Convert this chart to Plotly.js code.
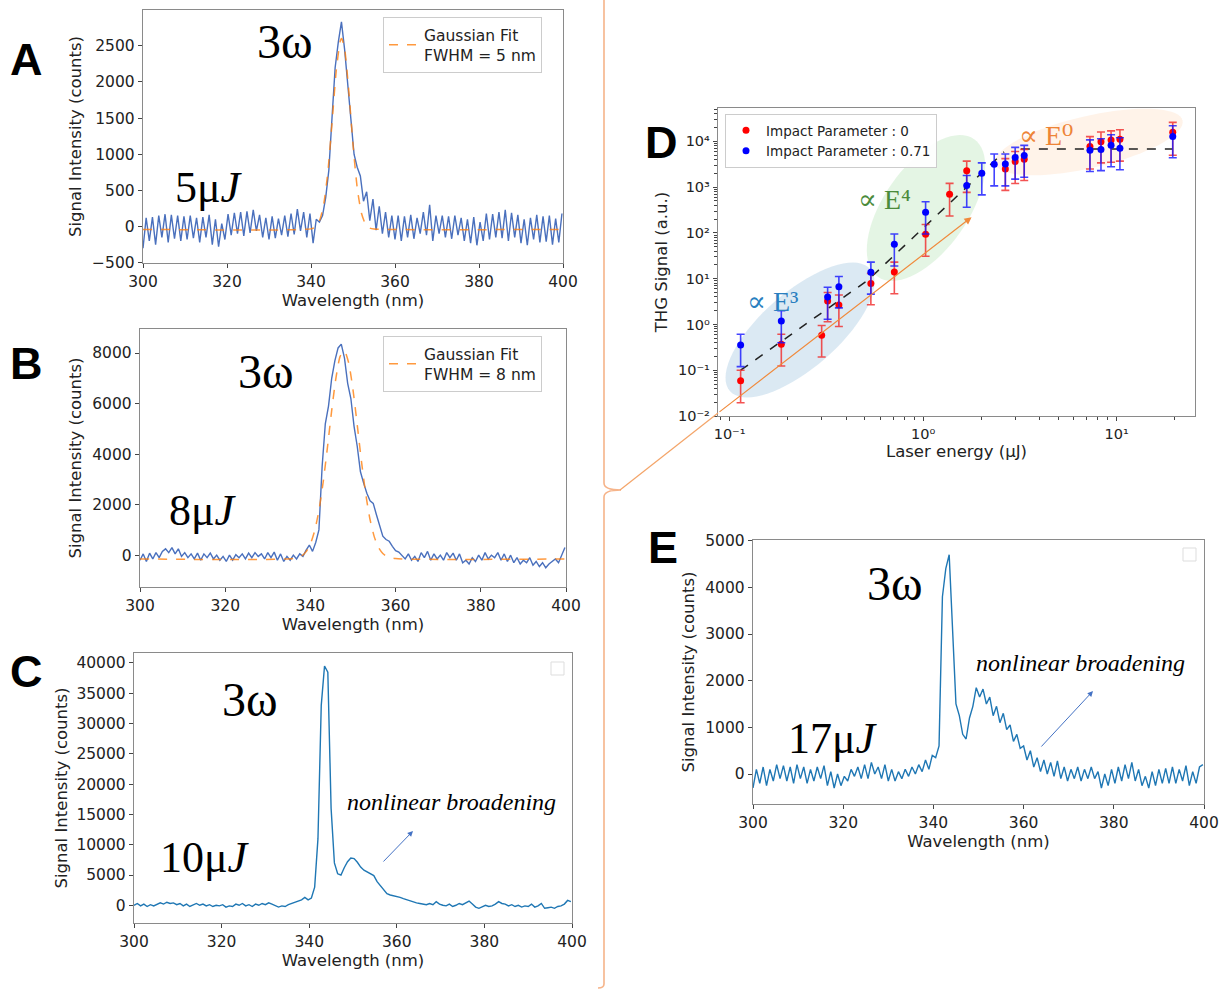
<!DOCTYPE html>
<html><head><meta charset="utf-8">
<script src="https://cdn.plot.ly/plotly-3.0.1.min.js"></script>
<style>html,body{margin:0;padding:0;background:#fff}</style>
</head><body><div id="chart" style="width:1222px;height:989px"></div>
<script>
// ---------------- DATA ----------------
const wavelengthStart = 300, wavelengthStep = 0.75;   // spectrometer grid (nm)
const spectrumA = [-300,120,-200,130,-250,150,-150,170,-220,160,-170,150,-200,140,-180,150,-160,120,-220,130,
 -150,160,-250,100,-280,40,-180,170,-120,190,-100,200,-130,210,-90,230,-60,160,-150,120,-180,140,-160,110,-120,150,
 -140,180,-110,240,-60,200,-150,180,-230,100,60,150,400,780,1500,2200,2550,2830,2450,1950,1400,1000,820,700,350,480,
 80,380,-50,280,-100,200,-150,150,-180,150,-200,140,-150,160,-170,120,-100,200,-120,300,-200,150,-100,150,-150,140,
 -170,150,-120,120,-200,100,-230,130,-260,60,-200,180,-180,170,-150,200,-160,230,-200,190,-150,160,-230,100,-260,120,
 -180,160,-220,140,-210,150,-250,110,-220,180];
const spectrumB = [-200,50,-250,80,-150,100,-100,150,250,100,300,50,250,-50,100,-100,50,-150,80,-200,50,-100,80,-150,
 0,-200,-50,-250,0,-200,20,-100,50,-150,80,-100,100,-50,50,-150,100,-100,120,-200,50,-250,-50,-200,0,-150,50,-50,200,
 400,150,500,1000,3500,5200,5900,7000,7700,8200,8350,7800,6800,6200,5100,4300,3300,2850,2450,2150,2050,1600,1150,750,
 620,550,350,180,120,0,-150,50,-200,-50,-250,100,-100,150,-200,50,-150,0,-200,100,-100,80,-200,50,-300,-200,-350,-100,
 -250,0,-200,100,-150,0,-100,100,-200,50,-250,0,-300,-100,-350,-200,-300,-100,-400,-250,-450,-300,-500,-350,-250,-150,
 -300,0,300];
const spectrumC = [0,300,-100,200,-200,100,-100,200,400,200,500,300,400,100,300,-100,200,-200,100,300,0,200,-100,100,
 -200,0,-100,100,-300,-100,-200,200,0,300,-100,100,-200,200,0,300,100,400,200,0,-300,-100,-200,100,300,500,800,900,
 1300,900,1200,3000,11000,33000,39500,38500,16000,7000,5200,5000,6200,7200,7800,7700,7100,6300,5800,5500,5200,4900,
 3900,3200,2500,1900,1700,1600,1450,1300,1100,900,700,500,400,300,200,100,300,100,600,200,0,-100,200,-200,0,300,100,
 400,700,200,-300,-500,-300,0,-200,-100,200,600,300,200,-100,100,-200,0,-300,-100,-200,200,-300,-100,300,-500,-400,
 -300,-500,-200,-100,200,800,600];
const spectrumE = [-300,100,-200,150,-250,100,-150,200,-100,180,-150,150,-200,200,-100,150,-200,100,-150,150,-100,180,
 -250,50,-300,0,-250,-50,-150,100,-50,150,-100,200,-100,250,0,150,-100,200,-150,100,-150,50,-100,100,-50,150,0,200,50,
 300,100,400,350,600,3800,4400,4700,2900,1500,1250,850,750,1200,1450,1850,1650,1820,1500,1650,1250,1450,1100,1300,950,
 1050,700,850,550,600,300,500,150,350,50,300,0,250,-50,280,-100,150,-150,100,-100,150,-150,100,-100,150,-100,50,-300,
 0,-250,100,-200,150,-150,200,-100,250,-150,100,-250,-50,-300,50,-250,100,-200,120,-200,150,-200,100,-150,180,-250,
 50,-200,150,200];

const gaussA_x = [300,340,341,342,343,344,345,346,347,347.3,348,349,350,351,352,353,354,355,400];
const gaussA_y = [-40,-33,-8,76,299,747,1426,2148,2574,2600,2460,1875,1134,537,187,31,-22,-35,-40];
const gaussB_x = [300,336,338,339,340,341,342,343,344,345,346,347,348,349,350,351,352,353,354,355,356,357,358,360,400];
const gaussB_y = [-150,-130,-21,139,444,966,1773,2894,4265,5727,7020,7875,8086,7602,6540,5146,3694,2408,1412,724,299,62,-59,-137,-150];

// Panel D: THG signal vs laser energy
const energyRed  = [0.114,0.185,0.299,0.321,0.367,0.537,0.71,1.03,1.37,1.68,2.66,2.99,3.33,7.28,8.3,9.36,10.4,19.5];
const thgRed     = [0.059,0.37,0.58,3.27,2.67,7.9,14.1,94,700,2280,2480,3630,4090,7740,9790,10700,11200,15900];
const redUpper   = [0.10,0.61,0.95,5.0,4.4,13,23,153,1210,3700,4200,6000,6700,12700,16000,17000,18000,26000];
const redLower   = [0.0195,0.124,0.195,1.15,0.9,2.7,4.7,31,235,770,850,1200,1400,2500,3400,3500,3700,5000];
const energyBlue = [0.114,0.185,0.321,0.367,0.537,0.71,1.03,1.68,2.01,2.33,2.66,2.99,3.33,7.28,8.3,9.36,10.4,19.5];
const thgBlue    = [0.357,1.19,4.0,6.7,13.8,56.7,284,1090,2020,3180,3200,4460,4920,6440,6650,8280,7130,12800];
const blueUpper  = [0.61,2.0,6.5,11.2,23,95,480,1800,3400,5300,5300,7400,8200,10800,11400,14000,12000,22000];
const blueLower  = [0.12,0.4,1.3,2.3,4.6,19,95,365,680,1070,1070,1500,1650,2200,2300,2800,2400,4400];
const fitRiseX = [0.114,0.52,2.62], fitRiseY = [0.1,9.4,5900];
const fitFlatX = [3.2,19.5],        fitFlatY = [6800,6800];
const guideX = [0.0871,1.78],       guideY = [0.0116,221];
const logTickLabels = {'-2': '10⁻²', '-1': '10⁻¹', '0': '10⁰', '1': '10¹', '2': '10²', '3': '10³', '4': '10⁴'};

// ---------------- LAYOUT HELPERS ----------------
const W = 1222, H = 989;
const X = v => v / W, Y = v => 1 - v / H;
const dX = (a, b) => [a / W, b / W];
const dY = (top, bot) => [1 - bot / H, 1 - top / H];
const grid = arr => arr.map((_, i) => wavelengthStart + i * wavelengthStep);
const up = (top, v) => top.map((t, i) => t - v[i]);
const dn = (low, v) => low.map((l, i) => v[i] - l);

const tickFont = {family: 'DejaVu Sans', size: 15.5, color: '#222'};
const titleFont = {family: 'DejaVu Sans', size: 16.5, color: '#222'};
const base = {showline: true, mirror: true, linecolor: '#8a8a8a', linewidth: 1.2, ticks: 'outside', ticklen: 4,
  tickcolor: '#444', showgrid: false, zeroline: false, tickfont: tickFont, automargin: false};

function wlAxis(domain, anchor) {
  return Object.assign({}, base, {domain, anchor, range: [300, 400], tick0: 300, dtick: 20,
    title: {text: 'Wavelength (nm)', font: titleFont, standoff: 2}});
}
function sigAxis(domain, anchor, range, dtick, standoff) {
  return Object.assign({}, base, {domain, anchor, range, dtick, tick0: 0, tickformat: 'd',
    title: {text: 'Signal Intensity (counts)', font: titleFont, standoff}});
}
const minorVals = (from, to) => { const a = []; for (let e = from; e < to; e++) for (let m = 2; m < 10; m++) a.push(m * Math.pow(10, e)); return a; };

// ---------------- TRACES ----------------
const blueA = '#4a70bd', mplBlue = '#1f77b4', orange = '#ff7f0e';
const traces = [
  {x: grid(spectrumA), y: spectrumA, xaxis: 'x', yaxis: 'y', type: 'scatter', mode: 'lines', line: {color: blueA, width: 1.4}, showlegend: false},
  {x: gaussA_x, y: gaussA_y, xaxis: 'x', yaxis: 'y', type: 'scatter', mode: 'lines', line: {color: orange, width: 1.5, dash: 'dash', shape: 'spline', smoothing: 0.6}, opacity: 0.8, name: 'Gaussian Fit<br>FWHM = 5 nm', legend: 'legend'},
  {x: grid(spectrumB), y: spectrumB, xaxis: 'x2', yaxis: 'y2', type: 'scatter', mode: 'lines', line: {color: blueA, width: 1.4}, showlegend: false},
  {x: gaussB_x, y: gaussB_y, xaxis: 'x2', yaxis: 'y2', type: 'scatter', mode: 'lines', line: {color: orange, width: 1.5, dash: 'dash', shape: 'spline', smoothing: 0.6}, opacity: 0.8, name: 'Gaussian Fit<br>FWHM = 8 nm', legend: 'legend2'},
  {x: grid(spectrumC), y: spectrumC, xaxis: 'x3', yaxis: 'y3', type: 'scatter', mode: 'lines', line: {color: mplBlue, width: 1.4}, showlegend: false},
  {x: fitRiseX, y: fitRiseY, xaxis: 'x4', yaxis: 'y4', type: 'scatter', mode: 'lines', line: {color: '#222', width: 1.5, dash: 'dash'}, showlegend: false},
  {x: fitFlatX, y: fitFlatY, xaxis: 'x4', yaxis: 'y4', type: 'scatter', mode: 'lines', line: {color: '#222', width: 1.5, dash: 'dash'}, showlegend: false},
  {x: energyRed, y: thgRed, xaxis: 'x4', yaxis: 'y4', type: 'scatter', mode: 'markers', name: 'Impact Parameter : 0', legend: 'legend3',
   marker: {color: '#ff0000', size: 7}, error_y: {type: 'data', symmetric: false, array: up(redUpper, thgRed), arrayminus: dn(redLower, thgRed), color: 'rgba(240,40,40,0.8)', thickness: 1.6, width: 4}},
  {x: energyBlue, y: thgBlue, xaxis: 'x4', yaxis: 'y4', type: 'scatter', mode: 'markers', name: 'Impact Parameter : 0.71', legend: 'legend3',
   marker: {color: '#0000ff', size: 7}, error_y: {type: 'data', symmetric: false, array: up(blueUpper, thgBlue), arrayminus: dn(blueLower, thgBlue), color: 'rgba(20,20,255,0.8)', thickness: 1.6, width: 4}},
  {x: grid(spectrumE), y: spectrumE, xaxis: 'x5', yaxis: 'y5', type: 'scatter', mode: 'lines', line: {color: mplBlue, width: 1.4}, showlegend: false}
];

// ---------------- SHAPES ----------------
function ellipsePath(cx, cy, a, b, deg) {
  const phi = -deg * Math.PI / 180; let d = '';
  for (let i = 0; i <= 72; i++) {
    const t = i / 72 * 2 * Math.PI;
    const x = cx + a * Math.cos(t) * Math.cos(phi) - b * Math.sin(t) * Math.sin(phi);
    const y = cy + a * Math.cos(t) * Math.sin(phi) + b * Math.sin(t) * Math.cos(phi);
    d += (i ? ' L ' : 'M ') + X(x).toFixed(5) + ',' + Y(y).toFixed(5);
  }
  return d + ' Z';
}
const P = (x, y) => X(x).toFixed(5) + ',' + Y(y).toFixed(5);
const shapes = [
  {type: 'path', xref: 'paper', yref: 'paper', layer: 'below', path: ellipsePath(800, 330, 93, 38, 41), fillcolor: 'rgba(31,119,180,0.16)', line: {width: 0}},
  {type: 'path', xref: 'paper', yref: 'paper', layer: 'below', path: ellipsePath(926, 208, 84, 42, 55), fillcolor: 'rgba(44,180,44,0.13)', line: {width: 0}},
  {type: 'path', xref: 'paper', yref: 'paper', layer: 'below', path: ellipsePath(1089, 142, 96, 26, 13), fillcolor: 'rgba(255,127,14,0.09)', line: {width: 0}},
  {type: 'path', xref: 'paper', yref: 'paper', path: 'M ' + P(604, 0) + ' L ' + P(604, 483) + ' Q ' + P(604, 490) + ' ' + P(621, 490) + ' Q ' + P(604, 490) + ' ' + P(604, 497) + ' L ' + P(604, 984) + ' Q ' + P(604, 988) + ' ' + P(598, 988), line: {color: '#f6b48a', width: 1.6}},
  {type: 'line', xref: 'paper', yref: 'paper', x0: X(620), y0: Y(490), x1: X(718), y1: Y(413), line: {color: '#f4a468', width: 1.2}},
  {type: 'rect', xref: 'paper', yref: 'paper', x0: X(551), x1: X(564), y0: Y(675), y1: Y(662), line: {color: '#dddddd', width: 1}, fillcolor: '#fff'},
  {type: 'rect', xref: 'paper', yref: 'paper', x0: X(1183), x1: X(1196), y0: Y(561), y1: Y(548), line: {color: '#dddddd', width: 1}, fillcolor: '#fff'}
];

// ---------------- ANNOTATIONS ----------------
const serif = 'Liberation Serif, DejaVu Serif, serif';
const txt = (x, y, text, font) => ({xref: 'paper', yref: 'paper', x: X(x), y: Y(y), text, showarrow: false, xanchor: 'center', yanchor: 'middle',
  font: Object.assign({family: serif, color: '#000'}, font)});
const letter = (x, y, t) => txt(x, y, t, {family: 'Liberation Sans, Arial, sans-serif', size: 45, weight: 'bold'});
const big = {size: 48}, energy = {size: 44}, note = {size: 24, style: 'italic'};
const annotations = [
  letter(26, 59, 'A'), letter(26, 364, 'B'), letter(26, 671, 'C'), letter(661, 142, 'D'), letter(663, 547, 'E'),
  txt(285, 41, '3ω', big), txt(209, 188, '5μ<i>J</i>', energy),
  txt(266, 371, '3ω', big), txt(203, 510, '8μ<i>J</i>', energy),
  txt(250, 699, '3ω', big), txt(205, 857, '10μ<i>J</i>', energy),
  txt(895, 583, '3ω', big), txt(833, 738, '17μ<i>J</i>', energy),
  txt(452, 802, 'nonlinear broadening', note),
  txt(1080, 663, 'nonlinear broadening', note),
  {xref: 'paper', yref: 'paper', x: X(413), y: Y(831), ax: 382 - 413, ay: 863 - 831, text: '', showarrow: true, arrowhead: 2, arrowsize: 1.1, arrowwidth: 1, arrowcolor: '#4472c4'},
  {xref: 'paper', yref: 'paper', x: X(1093), y: Y(691), ax: 1040 - 1093, ay: 748 - 691, text: '', showarrow: true, arrowhead: 2, arrowsize: 1.1, arrowwidth: 1, arrowcolor: '#4472c4'},
  txt(772, 301, '∝ E³', {size: 28, color: '#2a7fc0'}),
  txt(884, 200, '∝ E⁴', {size: 28, color: '#4b8b3b'}),
  txt(1046, 135, '∝ E⁰', {size: 28, color: '#ee8436'}),
  {xref: 'x4', yref: 'y4', axref: 'x4', ayref: 'y4', x: Math.log10(guideX[1]), y: Math.log10(guideY[1]), ax: Math.log10(guideX[0]), ay: Math.log10(guideY[0]), text: '', showarrow: true, arrowhead: 2, arrowsize: 1.2, arrowwidth: 1.2, arrowcolor: '#f08a3c'}
];

// ---------------- LAYOUT ----------------
const legendBox = {bgcolor: 'rgba(255,255,255,0.9)', bordercolor: '#cccccc', borderwidth: 1, xanchor: 'left', yanchor: 'top'};
const layout = {
  width: W, height: H, margin: {l: 0, r: 0, t: 0, b: 0}, paper_bgcolor: '#fff', plot_bgcolor: 'rgba(0,0,0,0)',
  font: {family: 'DejaVu Sans', color: '#222'}, hovermode: false,
  xaxis: wlAxis(dX(143, 563), 'y'),
  yaxis: sigAxis(dY(10, 263), 'x', [-505, 2995], 500, 6),
  xaxis2: wlAxis(dX(140, 566), 'y2'),
  yaxis2: sigAxis(dY(329, 587), 'x2', [-1260, 8950], 2000, 6),
  xaxis3: wlAxis(dX(134, 572), 'y3'),
  yaxis3: sigAxis(dY(653, 923), 'x3', [-2925, 41650], 5000, 4),
  xaxis5: wlAxis(dX(753, 1204), 'y5'),
  yaxis5: sigAxis(dY(540, 804), 'x5', [-643, 5015], 1000, 6),
  xaxis4: Object.assign({}, base, {domain: dX(718, 1195), anchor: 'y4', type: 'log', range: [-1.06, 1.405],
    tickvals: [0.1, 1, 10], ticktext: [-1, 0, 1].map(e => logTickLabels[e]), tickfont: Object.assign({}, tickFont, {size: 14.5}),
    minor: {ticks: 'outside', ticklen: 2.5, tickcolor: '#444', tickvals: minorVals(-2, 2), showgrid: false},
    title: {text: 'Laser energy (μJ)', font: titleFont, standoff: 2}}),
  yaxis4: Object.assign({}, base, {domain: dY(108, 416), anchor: 'x4', type: 'log', range: [-2, 4.73],
    tickvals: [1e-2, 1e-1, 1, 10, 100, 1e3, 1e4], ticktext: [-2, -1, 0, 1, 2, 3, 4].map(e => logTickLabels[e]), tickfont: Object.assign({}, tickFont, {size: 14.5}),
    minor: {ticks: 'outside', ticklen: 2.5, tickcolor: '#444', tickvals: minorVals(-2, 5), showgrid: false},
    title: {text: 'THG Signal (a.u.)', font: titleFont, standoff: 6}}),
  legend: Object.assign({}, legendBox, {x: X(383), y: Y(17), font: {family: 'DejaVu Sans', size: 15.5, color: '#222'}}),
  legend2: Object.assign({}, legendBox, {x: X(383), y: Y(336), font: {family: 'DejaVu Sans', size: 15.5, color: '#222'}}),
  legend3: Object.assign({}, legendBox, {x: X(725), y: Y(114), font: {family: 'DejaVu Sans', size: 13.5, color: '#222'}, tracegroupgap: 0}),
  shapes, annotations
};
Plotly.newPlot('chart', traces, layout, {displayModeBar: false, staticPlot: true});
</script></body></html>
